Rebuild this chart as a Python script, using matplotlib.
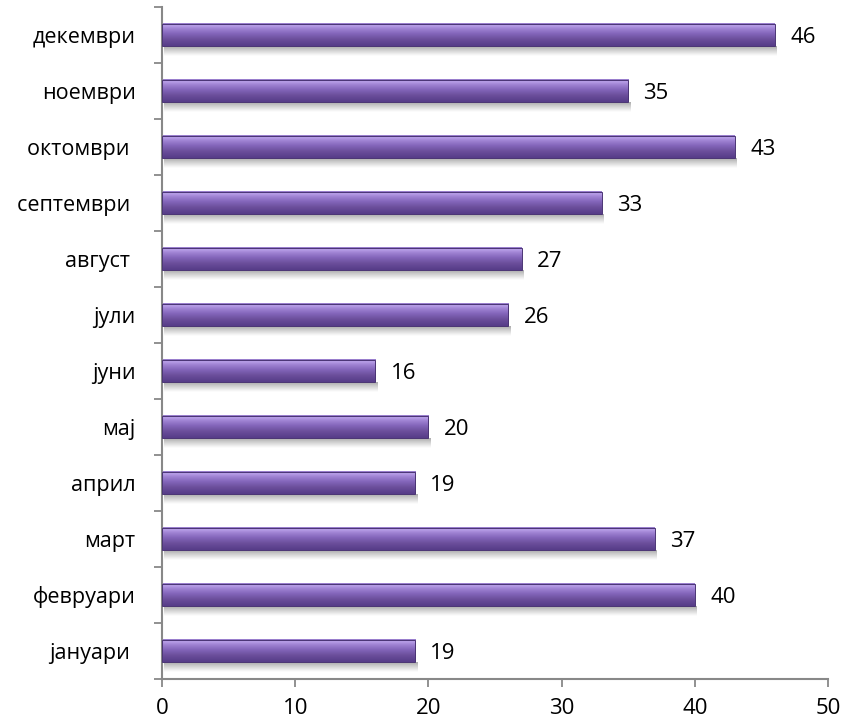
import matplotlib
matplotlib.use("Agg")
import matplotlib.pyplot as plt
import numpy as np
from matplotlib.colors import LinearSegmentedColormap
from matplotlib.patches import Rectangle

months = ['јануари ', 'февруари', 'март', 'април', 'мај', 'јуни', 'јули',
          'август ', 'септември ', 'октомври ', 'ноември', 'декември']
values = [19, 40, 37, 19, 20, 16, 26, 27, 33, 43, 35, 46]
xticks = [0, 10, 20, 30, 40, 50]

plt.rcParams['font.family'] = ['Open Sans', 'DejaVu Sans']

fig = plt.figure(figsize=(8.48, 7.26), dpi=100)
ax = fig.add_axes([162/848, 1-679/726, (828-162)/848, (679-7)/726])

h = 0.4
cmap = LinearSegmentedColormap.from_list('bar', [
    (0.0, '#563c88'), (0.3, '#6c4f9c'), (0.55, '#8466bb'),
    (0.78, '#a286d6'), (0.9, '#b9a0e8'), (1.0, '#9478c8')])
grad = np.linspace(0, 1, 64).reshape(-1, 1)
shadow_cmap = LinearSegmentedColormap.from_list('sh', [(0, (0.5, 0.5, 0.5, 0.0)), (1, (0.45, 0.45, 0.45, 0.6))])

for i, v in enumerate(values):
    y0 = i - h/2
    ax.imshow(grad, extent=[0.15, v + 0.15, y0 - 0.17, y0], origin='lower',
              cmap=shadow_cmap, aspect='auto', zorder=1, interpolation='bilinear')
    ax.imshow(grad, extent=[0, v, y0, y0 + h], origin='lower', cmap=cmap,
              aspect='auto', zorder=2, interpolation='bilinear')
    ax.add_patch(Rectangle((0, y0), v, h, fill=False, edgecolor='#4a3474',
                           linewidth=0.7, zorder=3))
    ax.text(v + 1.15, i, str(v), va='center_baseline', ha='left', fontsize=16, color='#000000')

ax.set_xlim(0, 50)
ax.set_ylim(-0.5, len(months) - 0.5)
ax.set_xticks(xticks)
ax.set_xticklabels([str(t) for t in xticks], fontsize=16)
ax.set_yticks(range(len(months)))
ax.set_yticklabels(months, fontsize=15.5)
ax.set_yticks(np.arange(-0.5, len(months), 1.0), minor=True)
ax.tick_params(axis='y', which='major', length=0, pad=19)
ax.tick_params(axis='y', which='minor', length=6, width=1.3, color='#888888', direction='out')
ax.tick_params(axis='x', which='major', length=6, width=1.3, color='#888888', pad=8, direction='out')

for s in ['top', 'right']:
    ax.spines[s].set_visible(False)
for s in ['left', 'bottom']:
    ax.spines[s].set_color('#888888')
    ax.spines[s].set_linewidth(1.5)

fig.savefig('out.png', dpi=100)
